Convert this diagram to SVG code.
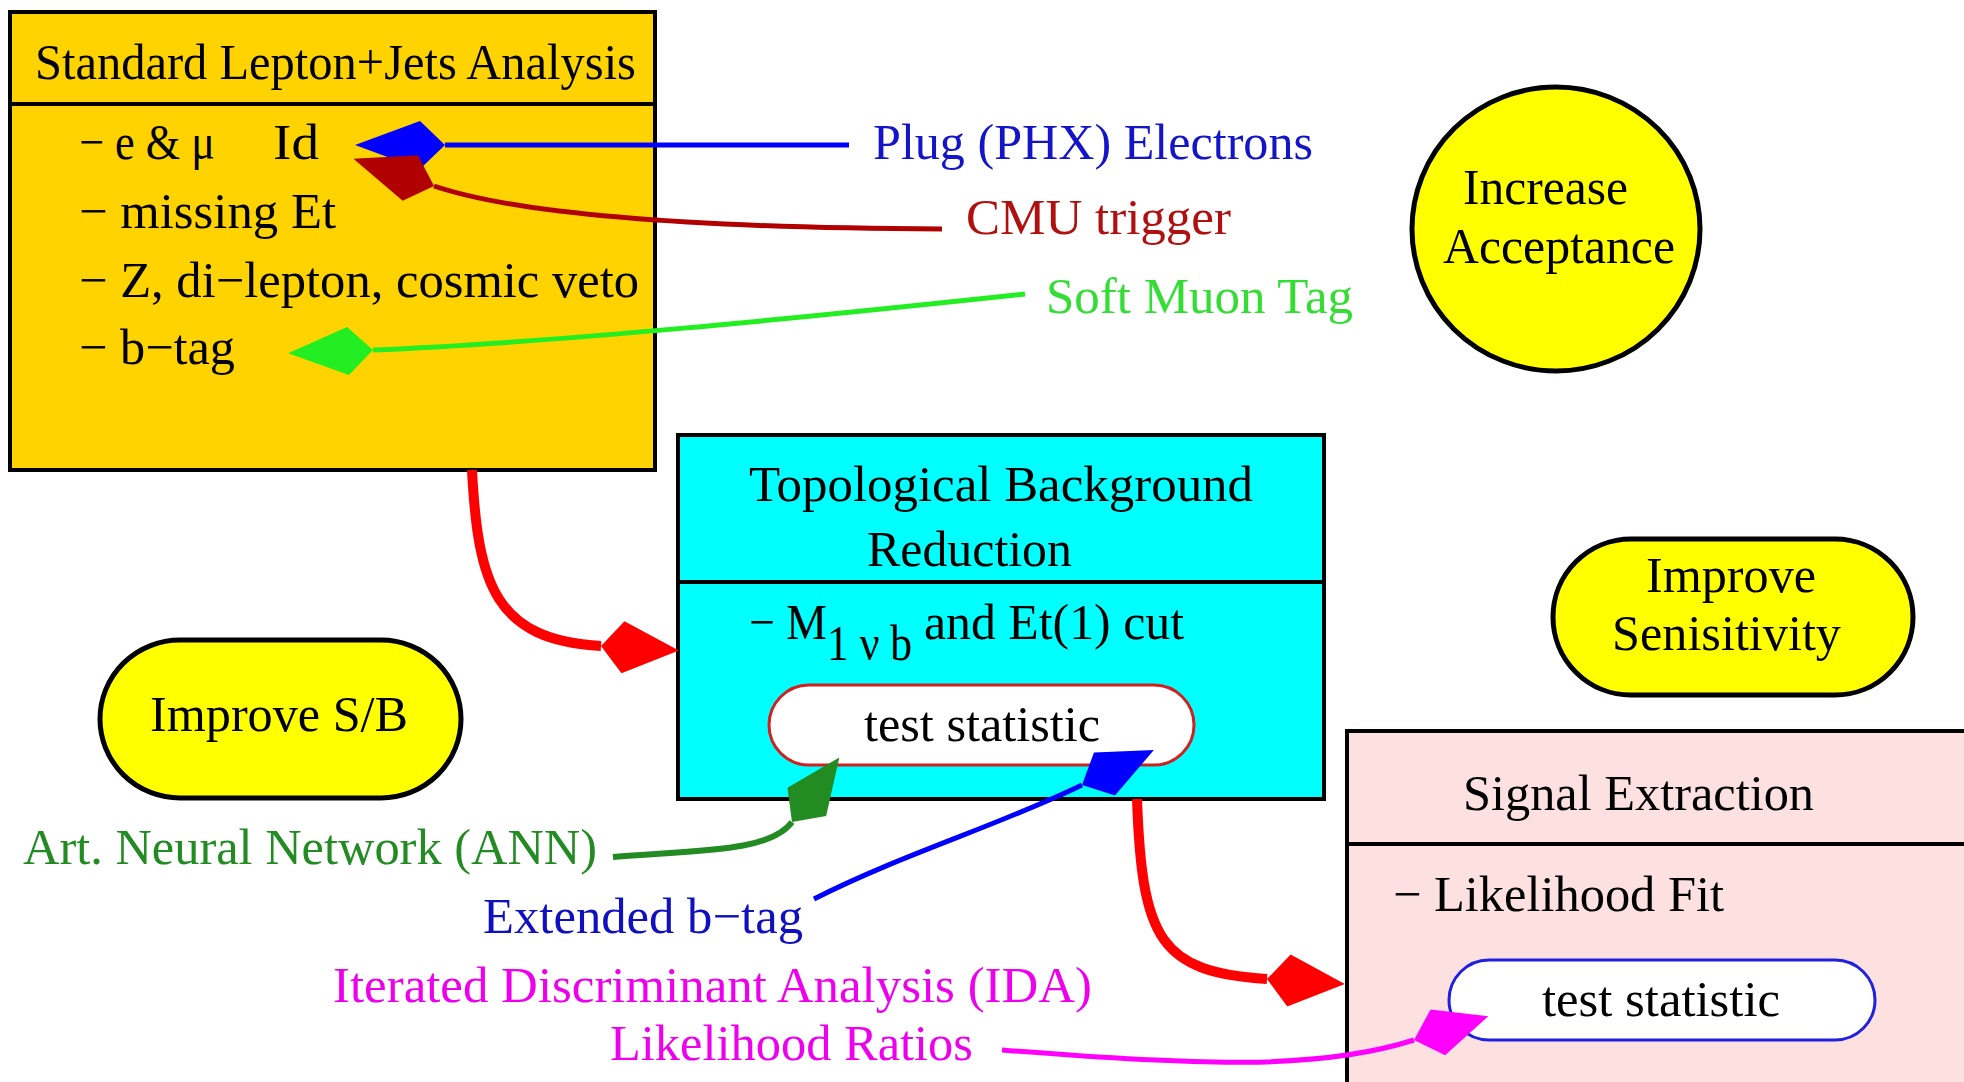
<svg xmlns="http://www.w3.org/2000/svg" width="1964" height="1082" viewBox="0 0 1964 1082">
<style>
text{font-family:"Liberation Serif","Times New Roman",serif;font-size:50px;fill:#000}
.box{stroke:#000;stroke-width:4}
.div{stroke:#000;stroke-width:4}
.oval{fill:#ffff00;stroke:#000;stroke-width:5}
.edge{fill:none}
</style>
<defs>
<marker id="kBlue" markerUnits="userSpaceOnUse" viewBox="0 0 90 48" refX="0" refY="24" markerWidth="90" markerHeight="48" orient="auto"><path d="M0,24 L25,0 L90,24 L25,48 Z" fill="#0000ff"/></marker>
<marker id="kDark" markerUnits="userSpaceOnUse" viewBox="0 0 85 48" refX="0" refY="24" markerWidth="85" markerHeight="48" orient="auto"><path d="M0,24 L25,0 L85,24 L25,48 Z" fill="#b00000"/></marker>
<marker id="kLime" markerUnits="userSpaceOnUse" viewBox="0 0 85 48" refX="0" refY="24" markerWidth="85" markerHeight="48" orient="auto"><path d="M0,24 L25,0 L85,24 L25,48 Z" fill="#22ee22"/></marker>
<marker id="kRed" markerUnits="userSpaceOnUse" viewBox="0 0 78 52" refX="0" refY="26" markerWidth="78" markerHeight="52" orient="auto"><path d="M0,26 L22,0 L78,26 L22,52 Z" fill="#ff0000"/></marker>
<marker id="kGreen" markerUnits="userSpaceOnUse" viewBox="0 0 80 48" refX="0" refY="24" markerWidth="80" markerHeight="48" orient="auto"><path d="M0,24 L25,0 L80,24 L25,48 Z" fill="#228b22"/></marker>
<marker id="kBlue2" markerUnits="userSpaceOnUse" viewBox="0 0 80 48" refX="0" refY="24" markerWidth="80" markerHeight="48" orient="auto"><path d="M0,24 L25,0 L80,24 L25,48 Z" fill="#0000ff"/></marker>
<marker id="kMag" markerUnits="userSpaceOnUse" viewBox="0 0 78 48" refX="0" refY="24" markerWidth="78" markerHeight="48" orient="auto"><path d="M0,24 L25,0 L78,24 L25,48 Z" fill="#ff00ff"/></marker>
</defs>
<rect width="1964" height="1082" fill="#fff"/>

<g id="lepton-jets">
<rect class="box" x="10" y="12" width="645" height="458" fill="#ffd300"/>
<line class="div" x1="10" y1="104" x2="655" y2="104"/>
<text x="35" y="79" textLength="601" lengthAdjust="spacingAndGlyphs">Standard Lepton+Jets Analysis</text>
<text x="79" y="159" textLength="136" lengthAdjust="spacingAndGlyphs">− e &amp; μ</text>
<text x="273" y="159" textLength="46" lengthAdjust="spacingAndGlyphs">Id</text>
<text x="79" y="228" textLength="257" lengthAdjust="spacingAndGlyphs">− missing Et</text>
<text x="79" y="297" textLength="560" lengthAdjust="spacingAndGlyphs">− Z, di−lepton, cosmic veto</text>
<text x="79" y="364" textLength="156" lengthAdjust="spacingAndGlyphs">− b−tag</text>
</g>

<g id="increase-acceptance">
<ellipse class="oval" cx="1556" cy="229" rx="144" ry="142"/>
<text x="1463" y="204" textLength="165" lengthAdjust="spacingAndGlyphs">Increase</text>
<text x="1443" y="263" textLength="232" lengthAdjust="spacingAndGlyphs">Acceptance</text>
</g>

<g id="topological">
<rect class="box" x="678" y="435" width="646" height="364" fill="#00ffff"/>
<line class="div" x1="678" y1="582" x2="1324" y2="582"/>
<text x="749" y="501" textLength="504" lengthAdjust="spacingAndGlyphs">Topological Background</text>
<text x="867" y="566" textLength="205" lengthAdjust="spacingAndGlyphs">Reduction</text>
<text x="749" y="639" textLength="78" lengthAdjust="spacingAndGlyphs">− M</text>
<text x="827" y="660" textLength="85" lengthAdjust="spacingAndGlyphs">1 ν b</text>
<text x="924" y="639" textLength="260" lengthAdjust="spacingAndGlyphs">and Et(1) cut</text>
<g id="test-statistic-1">
<rect x="769" y="685" width="425" height="80" rx="40" ry="40" fill="#fff" stroke="#d02020" stroke-width="3"/>
<text x="864" y="741" textLength="236" lengthAdjust="spacingAndGlyphs">test statistic</text>
</g>
</g>

<g id="improve-sb">
<rect class="oval" x="100" y="640" width="361" height="158" rx="80" ry="79"/>
<text x="150" y="731" textLength="258" lengthAdjust="spacingAndGlyphs">Improve S/B</text>
</g>

<g id="improve-sensitivity">
<rect class="oval" x="1553" y="539" width="360" height="156" rx="78" ry="78"/>
<text x="1646" y="592" textLength="170" lengthAdjust="spacingAndGlyphs">Improve</text>
<text x="1612" y="650" textLength="229" lengthAdjust="spacingAndGlyphs">Senisitivity</text>
</g>

<g id="signal-extraction">
<rect class="box" x="1347" y="731" width="700" height="400" fill="#fde0e0"/>
<line class="div" x1="1347" y1="844" x2="1964" y2="844"/>
<text x="1463" y="810" textLength="351" lengthAdjust="spacingAndGlyphs">Signal Extraction</text>
<text x="1393" y="911" textLength="331" lengthAdjust="spacingAndGlyphs">− Likelihood Fit</text>
<g id="test-statistic-2">
<rect x="1449" y="960" width="426" height="80" rx="40" ry="40" fill="#fff" stroke="#2020e0" stroke-width="3"/>
<text x="1542" y="1016" textLength="238" lengthAdjust="spacingAndGlyphs">test statistic</text>
</g>
</g>

<g id="labels">
<text x="873" y="159" textLength="440" lengthAdjust="spacingAndGlyphs" style="fill:#1414c8">Plug (PHX) Electrons</text>
<text x="966" y="234" textLength="265" lengthAdjust="spacingAndGlyphs" style="fill:#b01010">CMU trigger</text>
<text x="1046" y="313" textLength="307" lengthAdjust="spacingAndGlyphs" style="fill:#33dd33">Soft Muon Tag</text>
<text x="23" y="864" textLength="574" lengthAdjust="spacingAndGlyphs" style="fill:#228b22">Art. Neural Network (ANN)</text>
<text x="483" y="933" textLength="320" lengthAdjust="spacingAndGlyphs" style="fill:#1010c0">Extended b−tag</text>
<text x="333" y="1002" textLength="759" lengthAdjust="spacingAndGlyphs" style="fill:#ee00ee">Iterated Discriminant Analysis (IDA)</text>
<text x="610" y="1060" textLength="363" lengthAdjust="spacingAndGlyphs" style="fill:#ee00ee">Likelihood Ratios</text>
</g>

<g id="connectors">
<path class="edge" d="M849,145 L445,145" stroke="#0000ff" stroke-width="5" marker-end="url(#kBlue)"/>
<path class="edge" d="M942,229 C700,228 520,215 434,186" stroke="#b00000" stroke-width="5" marker-end="url(#kDark)"/>
<path class="edge" d="M1025,294 C800,318 550,343 373,350" stroke="#22ee22" stroke-width="5" marker-end="url(#kLime)"/>
<path class="edge" d="M472,470 C478,585 495,640 601,646" stroke="#ff0000" stroke-width="10" marker-end="url(#kRed)"/>
<path class="edge" d="M1137,799 C1142,940 1160,972 1267,979" stroke="#ff0000" stroke-width="10" marker-end="url(#kRed)"/>
<path class="edge" d="M613,857 C700,850 770,852 792,822" stroke="#228b22" stroke-width="6" marker-end="url(#kGreen)"/>
<path class="edge" d="M814,899 C900,855 1000,825 1082,785" stroke="#0000ff" stroke-width="5" marker-end="url(#kBlue2)"/>
<path class="edge" d="M1002,1050 C1200,1066 1320,1070 1414,1040" stroke="#ff00ff" stroke-width="5" marker-end="url(#kMag)"/>
</g>
</svg>
